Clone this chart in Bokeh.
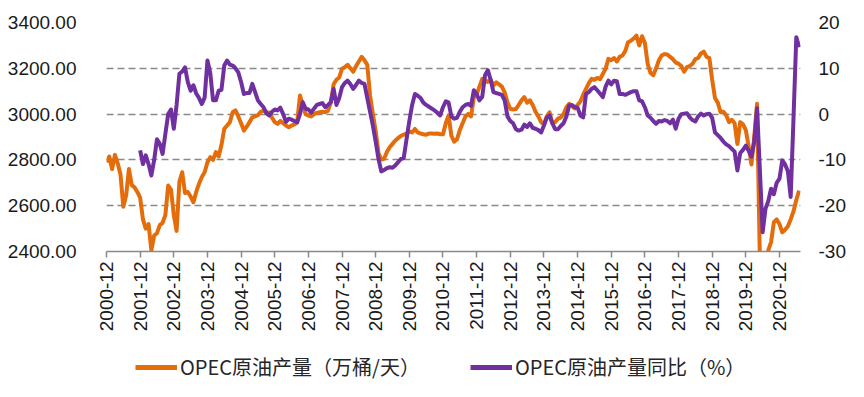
import math
from bokeh.plotting import figure
from bokeh.layouts import column
from bokeh.models import Range1d, LinearAxis, FixedTicker, Legend, LegendItem, ColumnDataSource
from bokeh.embed import file_html
from bokeh.resources import INLINE

# ---- data -------------------------------------------------------------
x_tick_labels = ["2000-12", "2001-12", "2002-12", "2003-12", "2004-12", "2005-12", "2006-12",
                 "2007-12", "2008-12", "2009-12", "2010-12", "2011-12", "2012-12", "2013-12",
                 "2014-12", "2015-12", "2016-12", "2017-12", "2018-12", "2019-12", "2020-12"]
left_ticks = [2400, 2600, 2800, 3000, 3200, 3400]
left_tick_labels = ["2400.00", "2600.00", "2800.00", "3000.00", "3200.00", "3400.00"]
right_ticks = [-30, -20, -10, 0, 10, 20]
right_tick_labels = ["-30", "-20", "-10", "0", "10", "20"]

series_names = ["OPEC原油产量（万桶/天）", "OPEC原油产量同比（%）"]

# monthly, 2000-12 ... 2021-07
production = [
    2790, 2815, 2760, 2822, 2785, 2735, 2595, 2645, 2760, 2690, 2680, 2660,
    2635, 2540, 2500, 2520, 2405, 2470, 2480, 2515, 2525, 2560, 2688, 2670,
    2560, 2490, 2705, 2746, 2655, 2660, 2640, 2615, 2660, 2696, 2725, 2746,
    2790, 2812, 2800, 2834, 2815, 2865, 2936, 2950, 2965, 3008, 3016, 2990,
    2960, 2928, 2945, 2965, 2986, 2990, 2995, 3010, 3015, 3010, 3005, 2985,
    2965, 2957, 2970, 2960, 2950, 2943, 2950, 2955, 2965, 3081, 3040, 3000,
    2994, 2990, 3000, 3005, 3008, 3010, 3008, 3015, 3050, 3130, 3150, 3160,
    3198, 3205, 3215, 3200, 3185, 3210, 3230, 3250, 3235, 3215, 3080, 3000,
    2925, 2830, 2802, 2805, 2835, 2855, 2870, 2885, 2895, 2905, 2910, 2915,
    2925, 2920, 2935, 2920, 2915, 2912, 2910, 2915, 2915, 2914, 2915, 2912,
    2912, 2960, 2994, 2905, 2880, 2890, 2930, 2960, 2990, 3001, 2990, 3074,
    3085, 3120, 3154, 3148, 3140, 3150, 3125, 3139, 3130, 3120, 3095, 3052,
    3023, 3020, 3022, 3040, 3060, 3074, 3050, 3060, 3040, 3010, 2990, 2965,
    2955, 2990, 3008, 2960, 2965, 2980, 2985, 3000, 3030, 3045, 3035, 3025,
    3040, 3055, 3085, 3110, 3135, 3154, 3150, 3158, 3152, 3175, 3198, 3241,
    3235, 3245, 3230, 3250, 3256, 3275, 3314, 3320, 3330, 3343, 3300, 3340,
    3310, 3220, 3180, 3170, 3200, 3235, 3256, 3262, 3260, 3250, 3240, 3225,
    3220, 3210, 3185, 3205, 3210, 3220, 3240, 3245, 3265, 3273, 3250, 3245,
    3150, 3070, 3050, 3008, 3010, 2995, 2965, 2975, 2960, 2870, 2965, 2955,
    2930, 2860, 2780, 2900, 3045, 2370, 2230, 2290, 2405, 2441, 2528, 2540,
    2520, 2484, 2495, 2510, 2540, 2575, 2625, 2666,
]

# monthly YoY %, 2001-12 ... 2021-07 (first 12 months have no value)
yoy = [math.nan] * 12 + [
    -7.9, -10.9, -9.0, -10.9, -13.4, -10.0, -5.5, -6.5, -8.7, -4.3, 0.0, 1.0,
    -3.2, 2.0, 8.8, 9.3, 10.2, 7.0, 5.1, 6.3, 4.5, 3.5, 2.2, 3.6,
    11.7, 9.0, 3.0, 3.0, 5.1, 5.3, 10.6, 11.7, 10.8, 10.6, 10.0, 9.1,
    7.0, 4.4, 4.6, 4.6, 6.6, 4.8, 3.0, 2.2, 1.5, 0.2, -0.3, 0.5,
    1.0, 0.8, 1.4, 0.0, -1.7, -1.0, -1.2, -1.5, -1.8, 0.0, 2.6, 1.2,
    1.0, 0.3, 1.2, 2.0, 2.2, 2.4, 1.5, 2.0, 2.6, 5.5, 2.0, 3.5,
    5.9, 6.8, 7.3, 6.5, 5.5, 6.4, 7.3, 6.8, 6.6, 3.5, 0.5, -2.5,
    -6.0, -9.8, -12.5, -12.2, -11.8, -11.6, -11.7, -11.2, -10.5, -9.8, -9.6, -5.5,
    -1.5, 2.0, 4.4, 4.0, 3.5, 2.5, 2.0, 1.6, 1.2, 0.8, 0.3, -0.3,
    1.5, 2.8, 2.5, -0.5, -1.0, -0.8, 0.5, 1.5, 2.0, 2.2, 1.8, 5.2,
    4.4, 3.0, 3.8, 8.5, 9.6, 7.5, 4.8, 4.6, 4.4, 4.2, 3.0, -0.5,
    -1.5, -2.0, -3.3, -3.6, -3.4, -2.3, -2.8, -2.0, -3.0, -3.2, -3.5, -4.0,
    -2.5, -0.8, -0.3, -2.0, -3.3, -3.3, -2.6, -2.0, -0.5, 1.9, 2.0, 1.5,
    1.4, -0.3, -0.7, 4.4, 4.8, 5.5, 5.9, 5.2, 4.5, 3.7, 6.0, 7.3,
    6.5, 7.3, 7.2, 4.4, 4.4, 4.2, 4.5, 4.8, 5.0, 5.0, 3.0, 2.8,
    1.5, -0.3, -0.8, -1.5, -2.1, -1.5, -1.6, -1.3, -1.5, -2.0, -1.2, -3.2,
    -1.0, 0.0, 0.1, 0.2, -0.7, -1.3, -1.6, -0.5, 0.1, -0.3, 0.0, 0.1,
    -0.8, -4.0, -4.6, -5.2, -6.0, -6.6, -7.0, -7.6, -8.2, -12.3, -8.5, -7.8,
    -6.9, -8.0, -9.3, -6.0, 1.3, -12.0, -25.8, -20.7, -19.0, -16.3, -17.5, -15.0,
    -14.1, -10.1, -11.0, -12.5, -18.1, -1.0, 16.8, 14.6,
]

# ---- figure -----------------------------------------------------------
ORANGE = "#E46C0A"
PURPLE = "#7030A0"
GRAY = "#898989"
TICK_FONT = "Liberation Sans"
TEXT_COLOR = "#1a1a1a"

idx = list(range(len(production)))
src = ColumnDataSource(dict(x=idx, prod=production, yoy=yoy))

p = figure(width=848, height=345, output_backend="svg", toolbar_location=None,
           x_range=Range1d(0, 247.5), y_range=Range1d(2400, 3400),
           min_border_left=106, min_border_right=44, min_border_top=22, min_border_bottom=94)
p.extra_y_ranges = {"yoy": Range1d(-30, 20)}
p.outline_line_color = None
p.background_fill_color = "white"
p.border_fill_color = "white"

r1 = p.line("x", "prod", source=src, line_color=ORANGE, line_width=4, line_join="round")
r2 = p.line("x", "yoy", source=src, y_range_name="yoy", line_color=PURPLE, line_width=4,
            line_join="round")

# x axis
xa = p.xaxis[0]
xa.ticker = FixedTicker(ticks=[12 * k for k in range(len(x_tick_labels))])
xa.major_label_overrides = {12 * k: lab for k, lab in enumerate(x_tick_labels)}
xa.major_label_orientation = math.pi / 2
xa.axis_line_color = GRAY
xa.axis_line_width = 1.5
xa.major_tick_line_color = GRAY
xa.major_tick_line_width = 1.5
xa.major_tick_in = 0
xa.major_tick_out = 6
xa.minor_tick_line_color = None
xa.major_label_standoff = 4
xa.major_label_text_font = TICK_FONT
xa.major_label_text_font_size = "19px"
xa.major_label_text_color = TEXT_COLOR

# left axis
ya = p.yaxis[0]
ya.ticker = FixedTicker(ticks=left_ticks)
ya.major_label_overrides = dict(zip(left_ticks, left_tick_labels))
ya.axis_line_color = None
ya.major_tick_line_color = None
ya.minor_tick_line_color = None
ya.major_label_standoff = 24
ya.major_label_text_font = TICK_FONT
ya.major_label_text_font_size = "19px"
ya.major_label_text_color = TEXT_COLOR

# right axis
ra = LinearAxis(y_range_name="yoy")
ra.ticker = FixedTicker(ticks=right_ticks)
ra.major_label_overrides = dict(zip(right_ticks, right_tick_labels))
ra.axis_line_color = None
ra.major_tick_line_color = None
ra.minor_tick_line_color = None
ra.major_label_standoff = 12
ra.major_label_text_font = TICK_FONT
ra.major_label_text_font_size = "19px"
ra.major_label_text_color = TEXT_COLOR
p.add_layout(ra, "right")

p.xgrid.grid_line_color = None
p.ygrid.ticker = FixedTicker(ticks=left_ticks)
p.ygrid.grid_line_color = GRAY
p.ygrid.grid_line_dash = "7 4"
p.ygrid.grid_line_width = 1.5

# ---- legend strip below ------------------------------------------------
q = figure(width=848, height=36, output_backend="svg", toolbar_location=None,
           x_range=Range1d(0, 1), y_range=Range1d(0, 1),
           min_border_left=0, min_border_right=0, min_border_top=0, min_border_bottom=0)
q.axis.visible = False
q.grid.grid_line_color = None
q.outline_line_color = None
q.border_fill_color = "white"
# legend-only stand-ins, kept outside the visible range
lg1 = q.line(x=[5, 6], y=[5, 6], line_color=ORANGE, line_width=5)
lg2 = q.line(x=[5, 6], y=[5, 6], line_color=PURPLE, line_width=5)
legend = Legend(items=[LegendItem(label=series_names[0], renderers=[lg1]),
                       LegendItem(label=series_names[1], renderers=[lg2])],
                orientation="horizontal", location=(29, 0), padding=0, margin=0,
                border_line_color=None, background_fill_alpha=0,
                glyph_width=42, glyph_height=22, label_standoff=3, spacing=50,
                label_text_font="Noto Sans CJK SC", label_text_font_size="20px",
                label_text_color="#262626")
q.add_layout(legend, "center")

open("out.html", "w").write(file_html(column(p, q, spacing=0), INLINE))
